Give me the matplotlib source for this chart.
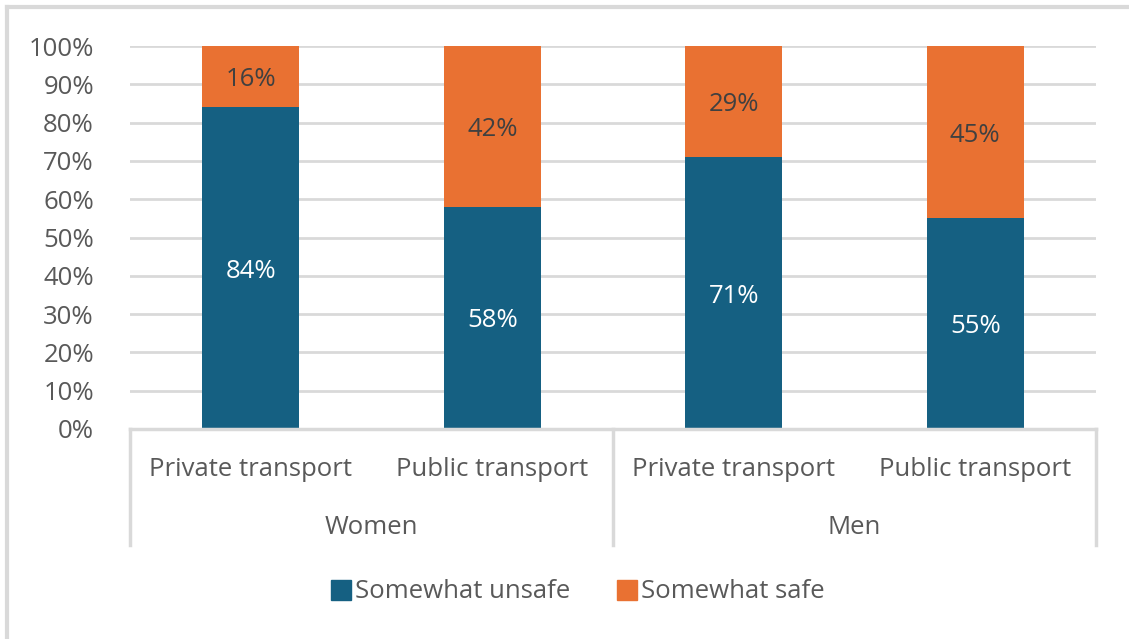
import numpy as np
import matplotlib.pyplot as plt
import matplotlib.transforms as mtransforms
from matplotlib.lines import Line2D

plt.rcParams["font.family"] = ["Open Sans", "DejaVu Sans"]

groups = ["Women", "Men"]
modes = ["Private transport", "Public transport"]
unsafe = [84, 58, 71, 55]
safe = [16, 42, 29, 45]
series_names = ["Somewhat unsafe", "Somewhat safe"]

BLUE = "#156082"
ORANGE = "#E97132"
TEXT = "#595959"
GRID = "#D9D9D9"
FS = 18.5

fig = plt.figure(figsize=(11.29, 6.39), dpi=100)
W, H = 1129, 639
left, right, top, bottom = 130 / W, 1096 / W, 1 - 46 / H, 1 - 429 / H
ax = fig.add_axes([left, bottom, right - left, top - bottom])

# nudge text down a few pixels so it sits optically centred
nudge = mtransforms.ScaledTranslation(0, -3 / 100, fig.dpi_scale_trans)

x = np.arange(len(unsafe))
width = 0.4
ax.bar(x, unsafe, width, color=BLUE, label=series_names[0], zorder=3)
ax.bar(x, safe, width, bottom=unsafe, color=ORANGE, label=series_names[1], zorder=3)

for xi, u, s in zip(x, unsafe, safe):
    ax.text(xi, u / 2, f"{u}%", ha="center", va="center", color="white", fontsize=FS,
            zorder=4, transform=ax.transData + nudge)
    ax.text(xi, u + s / 2, f"{s}%", ha="center", va="center", color="#404040", fontsize=FS,
            zorder=4, transform=ax.transData + nudge)

ax.set_xlim(-0.5, len(unsafe) - 0.5)
ax.set_ylim(0, 100)
ax.set_yticks(np.arange(0, 101, 10))
ax.set_yticklabels([f"{v}%" for v in range(0, 101, 10)])
ax.tick_params(axis="y", length=0, pad=26, labelsize=FS, labelcolor=TEXT)
ax.set_xticks([])
ax.grid(axis="y", color=GRID, linewidth=2, zorder=0)
for sp in ax.spines.values():
    sp.set_visible(False)

# two-level category axis below the plot
trans = ax.get_xaxis_transform()
ax.plot([-0.5, 3.5], [0, 0], transform=trans, color=GRID, lw=2.5, clip_on=False, zorder=5)
for xb in [-0.5, 1.5, 3.5]:
    ax.plot([xb, xb], [0, -116 / 383], transform=trans, color=GRID, lw=2.5, clip_on=False)
for i, xi in enumerate(x):
    ax.text(xi, -37 / 383, modes[i % 2], transform=trans + nudge, ha="center", va="center",
            fontsize=FS, color=TEXT)
for g, name in enumerate(groups):
    ax.text(2 * g + 0.5, -95 / 383, name, transform=trans + nudge, ha="center", va="center",
            fontsize=FS, color=TEXT)

handles = [Line2D([], [], marker="s", ls="", color=c, markersize=15) for c in (BLUE, ORANGE)]
fig.legend(handles, series_names, loc="center", bbox_to_anchor=(578 / W, 1 - 592 / H),
           ncol=2, frameon=False, fontsize=FS, labelcolor=TEXT, handletextpad=0.15,
           columnspacing=1.8, handlelength=0.8)

# light frame around the chart
fig.add_artist(Line2D([7 / W, 7 / W], [0, 1 - 7 / H], color=GRID, lw=3))
fig.add_artist(Line2D([7 / W, 1], [1 - 7 / H, 1 - 7 / H], color=GRID, lw=3))

fig.savefig("out.png", dpi=100)
